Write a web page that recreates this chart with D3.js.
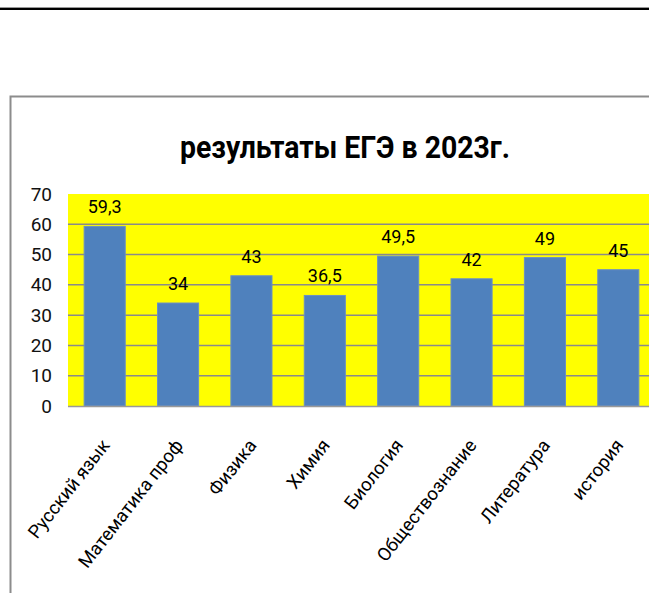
<!DOCTYPE html>
<html>
<head>
<meta charset="utf-8">
<script src="https://cdn.jsdelivr.net/npm/d3@7"></script>
<style>
  body { margin: 0; background: #fff; }
  text { font-family: Roboto, "Open Sans", sans-serif; }
</style>
</head>
<body>
<div class="graph"></div>
<script>
const subjects = ["Русский язык", "Математика проф", "Физика", "Химия", "Биология", "Обществознание", "Литература", "история"];
const scores = [59.3, 34, 43, 36.5, 49.5, 42, 49, 45];
const scoreLabels = ["59,3", "34", "43", "36,5", "49,5", "42", "49", "45"];
const yTicks = [0, 10, 20, 30, 40, 50, 60, 70];

const w = 649;
const h = 593;
const margin = {top: 194, right: -6, bottom: 187, left: 68};

const canvas = d3.select('.graph')
  .append("svg")
  .attr("width", w)
  .attr("height", h);

// top rule of the slide
canvas.append("line")
  .attr("x1", 0).attr("x2", w)
  .attr("y1", 9).attr("y2", 9)
  .attr("stroke", "#000").attr("stroke-width", 2);
canvas.append("line")
  .attr("x1", 0).attr("x2", w)
  .attr("y1", 7.5).attr("y2", 7.5)
  .attr("stroke", "#999").attr("stroke-width", 1);

// chart frame
canvas.append("rect")
  .attr("x", 10.5).attr("y", 96.5)
  .attr("width", 700).attr("height", 600)
  .attr("fill", "#fff")
  .attr("stroke", "#8c8c8c")
  .attr("stroke-width", 2);

canvas.append("text")
  .attr("x", 345)
  .attr("y", 158)
  .attr("text-anchor", "middle")
  .attr("textLength", 330)
  .attr("lengthAdjust", "spacingAndGlyphs")
  .style("font-size", "32px")
  .style("font-weight", "bold")
  .text("результаты ЕГЭ в 2023г.");

const xScale = d3.scaleBand()
  .domain(subjects)
  .range([margin.left, w - margin.right])
  .paddingInner(0.44)
  .paddingOuter(0.22);

const yScale = d3.scaleLinear()
  .domain([0, 70])
  .range([h - margin.bottom, margin.top]);

// plot background
canvas.append("rect")
  .attr("x", margin.left)
  .attr("y", yScale(70))
  .attr("width", w - margin.right - margin.left)
  .attr("height", yScale(0) - yScale(70))
  .attr("fill", "#ffff00");

// gridlines
canvas.append("g")
  .selectAll("line")
  .data(yTicks.filter(d => d > 0 && d < 70))
  .enter().append("line")
  .attr("x1", margin.left)
  .attr("x2", w - margin.right)
  .attr("y1", d => yScale(d))
  .attr("y2", d => yScale(d))
  .attr("stroke", "#8a8a8a")
  .attr("stroke-width", 1.5);

const yAxis = d3.axisLeft(yScale).tickValues(yTicks).tickSize(0).tickPadding(16);
const yg = canvas.append("g")
  .attr("transform", `translate(${margin.left}, 0)`)
  .call(yAxis);
yg.select(".domain").remove();
yg.selectAll("text").style("font-size", "19px").style("font-family", "Roboto, sans-serif").attr("fill", "#111");

canvas.selectAll(".bar")
  .data(scores)
  .enter().append("rect")
  .attr("class", "bar")
  .attr("x", (d, i) => xScale(subjects[i]))
  .attr("y", d => yScale(d))
  .attr("width", xScale.bandwidth())
  .attr("height", d => yScale(0) - yScale(d))
  .attr("fill", "#4f81bd")
  .attr("stroke", "#6a8fc4")
  .attr("stroke-width", 1);

// baseline
canvas.append("line")
  .attr("x1", margin.left).attr("x2", w)
  .attr("y1", yScale(0) + 0.5).attr("y2", yScale(0) + 0.5)
  .attr("stroke", "#999").attr("stroke-width", 1.5);

canvas.selectAll(".val")
  .data(scores)
  .enter().append("text")
  .attr("class", "val")
  .attr("x", (d, i) => xScale(subjects[i]) + xScale.bandwidth() / 2)
  .attr("y", d => yScale(d) - 13)
  .attr("text-anchor", "middle")
  .style("font-size", "18px")
  .text((d, i) => scoreLabels[i]);

canvas.selectAll(".cat")
  .data(subjects)
  .enter().append("text")
  .attr("class", "cat")
  .attr("text-anchor", "end")
  .attr("transform", d => `translate(${xScale(d) + xScale.bandwidth() / 2 - 5}, 437) rotate(-52)`)
  .attr("dy", "0.75em")
  .style("font-size", "18.5px")
  .text(d => d);
</script>
</body>
</html>
